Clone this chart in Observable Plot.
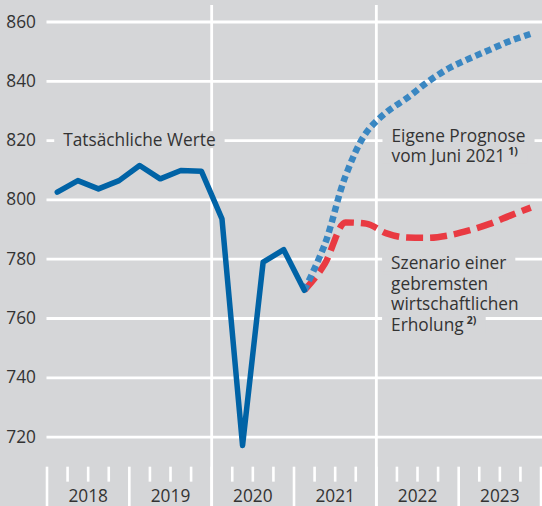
<!DOCTYPE html>
<html><head><meta charset="utf-8">
<script src="https://cdn.jsdelivr.net/npm/d3@7"></script>
<script src="https://cdn.jsdelivr.net/npm/@observablehq/plot@0.6"></script>
<style>html,body{margin:0;padding:0;background:#d5d6d8;} #chart svg{display:block}</style>
</head><body><div id="chart"></div>
<script>
// ---- data ----
const actualPeriods = ["2018Q1","2018Q2","2018Q3","2018Q4","2019Q1","2019Q2","2019Q3","2019Q4","2020Q1","2020Q2","2020Q3","2020Q4","2021Q1"];
const actualValues = [802.6, 806.5, 803.7, 806.5, 811.6, 807.1, 809.9, 809.7, 793.6, 717.2, 779.0, 783.2, 769.5];
const forecastPeriods = ["2021Q1","2021Q2","2021Q3","2021Q4","2022Q1","2022Q2","2022Q3","2022Q4","2023Q1","2023Q2","2023Q3","2023Q4"];
const prognoseValues = [769.5, 785.1, 808.0, 822.6, 829.6, 834.4, 839.8, 844.3, 847.6, 850.6, 853.6, 856.0];
const szenarioValues = [769.5, 778.5, 792.4, 792.0, 788.7, 787.3, 787.2, 788.0, 789.7, 791.9, 794.7, 797.4];
const yTicks = [720, 740, 760, 780, 800, 820, 840, 860];
const yearLabels = ["2018", "2019", "2020", "2021", "2022", "2023"];
const gridYears = [2020, 2022];
const annotationLines = [
  {text: "Tatsächliche Werte", x: 2018.197, y: 820.0},
  {text: "Eigene Prognose", x: 2022.184, y: 821.4},
  {text: "vom Juni 2021", x: 2022.184, y: 814.8, sup: "1)"},
  {text: "Szenario einer", x: 2022.179, y: 778.4},
  {text: "gebremsten", x: 2022.179, y: 771.5},
  {text: "wirtschaftlichen", x: 2022.179, y: 764.6},
  {text: "Erholung", x: 2022.179, y: 757.6, sup: "2)"}
];

// ---- helpers ----
const toX = p => +p.slice(0, 4) + (+p.slice(5) - 0.5) / 4;
const actual = actualPeriods.map((p, i) => ({x: toX(p), y: actualValues[i]}));
const prognose = forecastPeriods.map((p, i) => ({x: toX(p), y: prognoseValues[i]}));
const szenario = forecastPeriods.map((p, i) => ({x: toX(p), y: szenarioValues[i]}));
const firstYear = +yearLabels[0], lastYear = +yearLabels[yearLabels.length - 1] + 1;
const majorTicks = d3.range(firstYear, lastYear + 1);
const minorTicks = d3.range(firstYear, lastYear).flatMap(y => [y + 0.25, y + 0.5, y + 0.75]);

const bg = "#d5d6d8";
const textColor = "#333";
const fs = 17.3;
const yMin = 696.59, yMax = 867.25;

const chart = Plot.plot({
  width: 542, height: 506,
  marginLeft: 46.5, marginRight: 0, marginTop: 0, marginBottom: 0,
  style: {background: bg, fontFamily: "'Open Sans', sans-serif", fontSize: fs + "px", color: textColor},
  x: {domain: [firstYear, 2024.018], axis: null},
  y: {domain: [yMin, yMax], axis: null},
  marks: [
    Plot.ruleY(yTicks, {stroke: "white", strokeWidth: 2.8}),
    Plot.ruleX(gridYears, {y1: 865.56, y2: yMin, stroke: "white", strokeWidth: 2.8}),
    Plot.ruleX(majorTicks, {y1: 709.85, y2: yMin, stroke: "white", strokeWidth: 2.6}),
    Plot.ruleX(minorTicks, {y1: 709.85, y2: 704.8, stroke: "white", strokeWidth: 2.6}),
    Plot.axisY(yTicks, {tickSize: 0, tickPadding: 11, fontSize: fs, fill: textColor, label: null}),
    Plot.text(yearLabels, {x: d => +d + 0.5, y: () => 700.1, text: d => d, fill: textColor, fontSize: fs}),
    Plot.line(szenario, {x: "x", y: "y", curve: "monotone-x", stroke: "#e93a42", strokeWidth: 6.5, strokeDasharray: "17,7", strokeLinecap: "butt", className: "szenario"}),
    Plot.line(prognose, {x: "x", y: "y", curve: "catmull-rom", stroke: "#3a87c2", strokeWidth: 6.5, strokeDasharray: "6.5,4", strokeLinecap: "butt"}),
    Plot.line(actual, {x: "x", y: "y", stroke: "#0063a6", strokeWidth: 5.5, strokeLinejoin: "round", strokeLinecap: "round"}),
    Plot.text(annotationLines, {x: "x", y: "y", text: "text", textAnchor: "start", fill: textColor, fontSize: fs, className: "lbl"})
  ]
});

// superscripts
annotationLines.filter(d => d.sup).forEach(d => {
  d3.select(chart).selectAll("g.lbl text").filter(function() { return this.textContent === d.text; })
    .append("tspan").attr("dx", 3).attr("dy", -7).attr("font-size", 10.5).attr("font-weight", 700).text(d.sup);
});

document.getElementById("chart").appendChild(chart);

// background knock-outs behind labels (gaps in the grid), placed under the data lines
const svgBox = chart.getBoundingClientRect();
const haloG = d3.create("svg:g").attr("class", "halo").attr("fill", bg);
d3.select(chart).selectAll("g.lbl text").each(function() {
  const b = this.getBoundingClientRect();
  haloG.append("rect")
    .attr("x", b.left - svgBox.left - 9).attr("y", b.top - svgBox.top + 3)
    .attr("width", b.width + 18).attr("height", b.height - 6);
});
const szG = chart.querySelector("g.szenario");
chart.insertBefore(haloG.node(), szG);
</script>
</body></html>
